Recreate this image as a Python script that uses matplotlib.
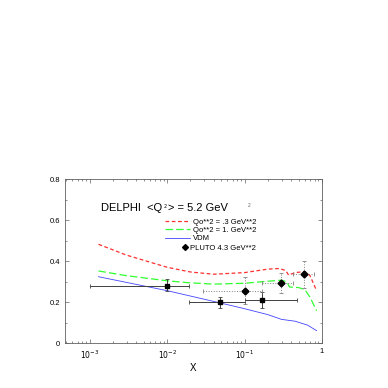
import matplotlib
matplotlib.use("Agg")
import matplotlib.pyplot as plt
from matplotlib.ticker import FixedLocator, LogLocator, NullFormatter
from matplotlib.lines import Line2D

plt.rcParams['font.family'] = ['Liberation Sans', 'DejaVu Sans']

# curves
x_red = [1.3e-3, 3e-3, 0.01, 0.02, 0.04, 0.1, 0.2, 0.28, 0.34, 0.37, 0.45, 0.6, 0.7, 0.85]
y_red = [0.483, 0.43, 0.371, 0.348, 0.337, 0.345, 0.362, 0.365, 0.355, 0.333, 0.345, 0.35, 0.33, 0.257]
x_green = [1.3e-3, 3e-3, 0.01, 0.02, 0.04, 0.1, 0.2, 0.3, 0.35, 0.38, 0.5, 0.6, 0.7, 0.85]
y_green = [0.353, 0.33, 0.305, 0.295, 0.289, 0.293, 0.303, 0.308, 0.3, 0.275, 0.272, 0.262, 0.225, 0.159]
x_blue = [1.3e-3, 3e-3, 0.01, 0.045, 0.1, 0.2, 0.3, 0.45, 0.65, 0.85]
y_blue = [0.325, 0.297, 0.257, 0.2, 0.169, 0.14, 0.117, 0.108, 0.089, 0.062]

# DELPHI points (solid errors)
dx = [0.01, 0.048, 0.166]
dy = [0.281, 0.2, 0.21]
dx_lo = [1e-3, 0.0194, 0.1]
dx_hi = [0.0194, 0.1, 0.48]
dy_lo = [0.255, 0.174, 0.171]
dy_hi = [0.312, 0.228, 0.249]

# PLUTO points (dotted errors)
px = [0.1, 0.294, 0.59]
py = [0.255, 0.296, 0.337]
px_lo = [0.0288, 0.166, 0.42]
px_hi = [0.17, 0.42, 0.79]
py_lo = [0.19, 0.244, 0.268]
py_hi = [0.322, 0.341, 0.403]

fig = plt.figure(figsize=(3.88, 3.88), dpi=100)
ax = fig.add_axes([0.1675, 0.115, 0.6625, 0.423])

red_ls = (0, (3, 2))
green_ls = (0, (6, 2.5))
ax.plot(x_red, y_red, color='#ff3030', ls=red_ls, lw=0.9)
ax.plot(x_green, y_green, color='#30ff30', ls=green_ls, lw=0.9)
ax.plot(x_blue, y_blue, color='#4444ff', ls='-', lw=0.6)

xe = [[x - l for x, l in zip(dx, dx_lo)], [h - x for x, h in zip(dx, dx_hi)]]
ye = [[y - l for y, l in zip(dy, dy_lo)], [h - y for y, h in zip(dy, dy_hi)]]
ax.errorbar(dx, dy, xerr=xe, yerr=ye, fmt='s', ms=2.5, color='black',
            ecolor='#404040', elinewidth=0.7, capsize=1.5, capthick=0.6)

xe = [[x - l for x, l in zip(px, px_lo)], [h - x for x, h in zip(px, px_hi)]]
ye = [[y - l for y, l in zip(py, py_lo)], [h - y for y, h in zip(py, py_hi)]]
eb = ax.errorbar(px, py, xerr=xe, yerr=ye, fmt='D', ms=3.5, color='black',
                 ecolor='#808080', elinewidth=0.7, capsize=1.5, capthick=0.6)
for c in eb[2]:
    c.set_linestyle(':')

ax.set_xscale('log')
ax.set_xlim(4.8e-4, 1.0)
ax.set_ylim(0, 0.8)
ax.set_xticks([1e-3, 1e-2, 1e-1, 1])
ax.set_xticklabels(['$10^{-3}$', '$10^{-2}$', '$10^{-1}$', '1'])
ax.xaxis.set_minor_locator(LogLocator(base=10, subs=range(2, 10)))
ax.xaxis.set_minor_formatter(NullFormatter())
ax.set_yticks([0, 0.2, 0.4, 0.6, 0.8])
ax.set_yticklabels(['0', '0.2', '0.4', '0.6', '0.8'])
ax.yaxis.set_minor_locator(FixedLocator([0.1, 0.3, 0.5, 0.7]))
ax.tick_params(which='both', direction='in', top=True, right=True,
               labelsize=5.5, color='#606060', width=0.5)
ax.tick_params(which='major', length=3)
ax.tick_params(which='minor', length=1.5)
for s in ax.spines.values():
    s.set_color('#606060')
    s.set_linewidth(0.6)
ax.set_xlabel('X', fontsize=7, labelpad=2)

t = ax.text(1.4e-3, 0.66, 'DELPHI  <Q', fontsize=8, va='center')
ax.annotate('$^{2}$', xy=(1, 0.5), xycoords=t, xytext=(0.3, 0.5), textcoords='offset points',
            fontsize=5, va='center')
ax.annotate('> = 5.2 GeV', xy=(1, 0.5), xycoords=t, xytext=(4, 0), textcoords='offset points',
            fontsize=8, va='center')
ax.text(0.11, 0.672, '2', fontsize=3.5, va='center', color='#606060')

handles = [
    Line2D([], [], color='#ff3030', ls=red_ls, lw=0.9),
    Line2D([], [], color='#30ff30', ls=green_ls, lw=0.9),
    Line2D([], [], color='#4444ff', ls='-', lw=0.6),
]
labels = ['Qo**2 = .3 GeV**2', 'Qo**2 = 1. GeV**2', 'VDM']
leg = ax.legend(handles, labels, loc='upper left', bbox_to_anchor=(0.375, 0.785),
                frameon=False, fontsize=5.5, handlelength=3.2, handletextpad=0.4,
                labelspacing=0.12, borderpad=0)
ax.add_artist(leg)
ax.legend([Line2D([], [], color='black', marker='D', ms=3, ls='none')],
          ['PLUTO 4.3 GeV**2'], loc='upper left', bbox_to_anchor=(0.445, 0.625),
          frameon=False, fontsize=5.5, handlelength=0.6, handletextpad=0.3,
          borderpad=0, numpoints=1)

fig.savefig('out.png', dpi=100)
